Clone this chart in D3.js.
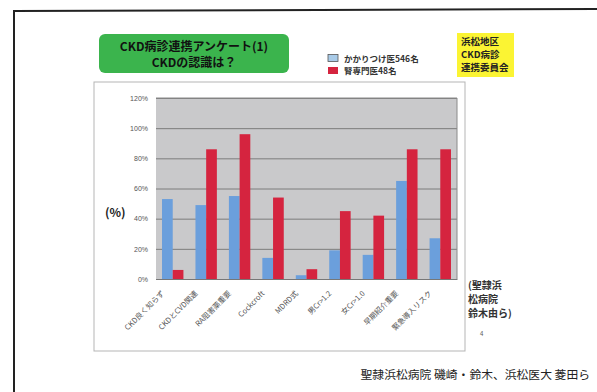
<!DOCTYPE html>
<html>
<head>
<meta charset="utf-8">
<script src="https://cdn.jsdelivr.net/npm/d3@7"></script>
<style>
  html, body { margin: 0; padding: 0; background: #fff; }
  svg { display: block; }
  text { font-family: "Noto Sans CJK JP", "Noto Sans", sans-serif; }
</style>
</head>
<body>
<script>
// Survey answers: share of respondents (%) per item
const categories = ["CKD良く知らず", "CKDとCVD関連", "RA阻害薬重要", "Cockcroft", "MDRD式",
                    "男Cr>1.2", "女Cr>1.0", "早期紹介重要", "緊急導入リスク"];
const seriesNames = ["かかりつけ医546名", "腎専門医48名"];
const gpValues = [53, 49, 55, 14, 2.5, 19, 16, 65, 27];
const nephroValues = [6, 86, 96, 54, 6.5, 45, 42, 86, 86];
const yTicks = [0, 20, 40, 60, 80, 100, 120];
const colors = ["#6b9fdc", "#d5243f"];

const W = 597, H = 392;
const svg = d3.select("body").append("svg").attr("width", W).attr("height", H);

// slide frame
svg.append("path").attr("d", "M14,392 L14,11 L597,9")
  .attr("fill", "none").attr("stroke", "#222").attr("stroke-width", 2);

// chart box
svg.append("rect").attr("x", 94).attr("y", 82).attr("width", 371).attr("height", 269)
  .attr("fill", "#fff").attr("stroke", "#b5b5b5").attr("stroke-width", 1);

// title
svg.append("rect").attr("x", 99).attr("y", 34).attr("width", 190).attr("height", 39)
  .attr("rx", 6).attr("fill", "#3bb44d");
svg.append("text").attr("x", 194).attr("y", 51).attr("text-anchor", "middle")
  .attr("font-size", 12).attr("font-weight", "bold").attr("fill", "#111")
  .text("CKD病診連携アンケート(1)");
svg.append("text").attr("x", 194).attr("y", 66.5).attr("text-anchor", "middle")
  .attr("font-size", 12).attr("font-weight", "bold").attr("fill", "#111")
  .text("CKDの認識は？");

// committee badge
svg.append("rect").attr("x", 457).attr("y", 33).attr("width", 57).attr("height", 44).attr("fill", "#fbf433");
["浜松地区", "CKD病診", "連携委員会"].forEach((t, i) => {
  svg.append("text").attr("x", 461).attr("y", 45 + i * 13).attr("font-size", 9.5)
    .attr("font-weight", "bold").attr("fill", "#222").text(t);
});

// legend
seriesNames.forEach((name, i) => {
  const y = 53 + i * 12.5;
  svg.append("rect").attr("x", 328).attr("y", y + 1.5).attr("width", 10).attr("height", 7)
    .attr("fill", i === 0 ? "#a9cbe8" : colors[1]).attr("stroke", i === 0 ? "#555" : "none").attr("stroke-width", 0.8);
  svg.append("text").attr("x", 344).attr("y", y + 8.5).attr("font-size", 8.5)
    .attr("font-weight", "bold").attr("fill", "#333").text(name);
});

// plot area
const plot = { left: 156, right: 457, top: 98, bottom: 279 };
const y = d3.scaleLinear().domain([0, 120]).range([plot.bottom, plot.top]);
const x0 = d3.scaleBand().domain(categories).range([plot.left, plot.right])
  .paddingInner(0.36).paddingOuter(0.18);
const x1 = d3.scaleBand().domain([0, 1]).range([0, x0.bandwidth()]);

svg.append("rect").attr("x", plot.left).attr("y", plot.top)
  .attr("width", plot.right - plot.left).attr("height", plot.bottom - plot.top)
  .attr("fill", "#c9c9cb");

const gy = svg.append("g").attr("transform", `translate(${plot.left},0)`)
  .call(d3.axisLeft(y).tickValues(yTicks).tickFormat(d => d + "%")
    .tickSize(-(plot.right - plot.left)).tickPadding(8));
gy.select(".domain").remove();
gy.selectAll(".tick line").attr("stroke", "#7c7c7c").attr("stroke-width", 1);
gy.selectAll(".tick text").attr("font-size", 7).attr("fill", "#555")
  .style("font-family", "'Liberation Sans', sans-serif");

// plot border top/right
svg.append("path").attr("d", `M${plot.left},${plot.top} L${plot.right},${plot.top} L${plot.right},${plot.bottom}`)
  .attr("fill", "none").attr("stroke", "#8a8a8a");

// bars
const rows = categories.map((c, i) => ({ c, vals: [gpValues[i], nephroValues[i]] }));
const groups = svg.append("g").selectAll("g").data(rows).join("g")
  .attr("transform", d => `translate(${x0(d.c)},0)`);
groups.selectAll("rect").data(d => d.vals.map((v, k) => ({ v, k }))).join("rect")
  .attr("x", d => x1(d.k))
  .attr("width", x1.bandwidth())
  .attr("y", d => y(d.v))
  .attr("height", d => y(0) - y(d.v))
  .attr("fill", d => colors[d.k]);

// x axis
const gx = svg.append("g").attr("transform", `translate(0,${plot.bottom})`)
  .call(d3.axisBottom(x0).tickSize(0).tickPadding(0));
gx.select(".domain").attr("stroke", "#777");
gx.selectAll(".tick text")
  .attr("font-size", 7.5).attr("fill", "#555")
  .attr("text-anchor", "end")
  .attr("transform", "translate(-8,15) rotate(-45)")
  .attr("dy", 0);

// unit label
svg.append("text").attr("x", 105).attr("y", 217).attr("font-size", 12)
  .attr("font-weight", "bold").attr("fill", "#222").text("(%)");

// source note
["(聖隷浜", "松病院", "鈴木由ら)"].forEach((t, i) => {
  svg.append("text").attr("x", 468).attr("y", 289 + i * 14).attr("font-size", 10)
    .attr("font-weight", "bold").attr("fill", "#333").text(t);
});
svg.append("text").attr("x", 480).attr("y", 336).attr("font-size", 6).attr("fill", "#555").text("4");

// footer
svg.append("text").attr("x", 590).attr("y", 379).attr("text-anchor", "end")
  .attr("font-size", 11.8).attr("fill", "#222")
  .text("聖隷浜松病院 磯崎・鈴木、浜松医大 菱田ら");
</script>
</body>
</html>
